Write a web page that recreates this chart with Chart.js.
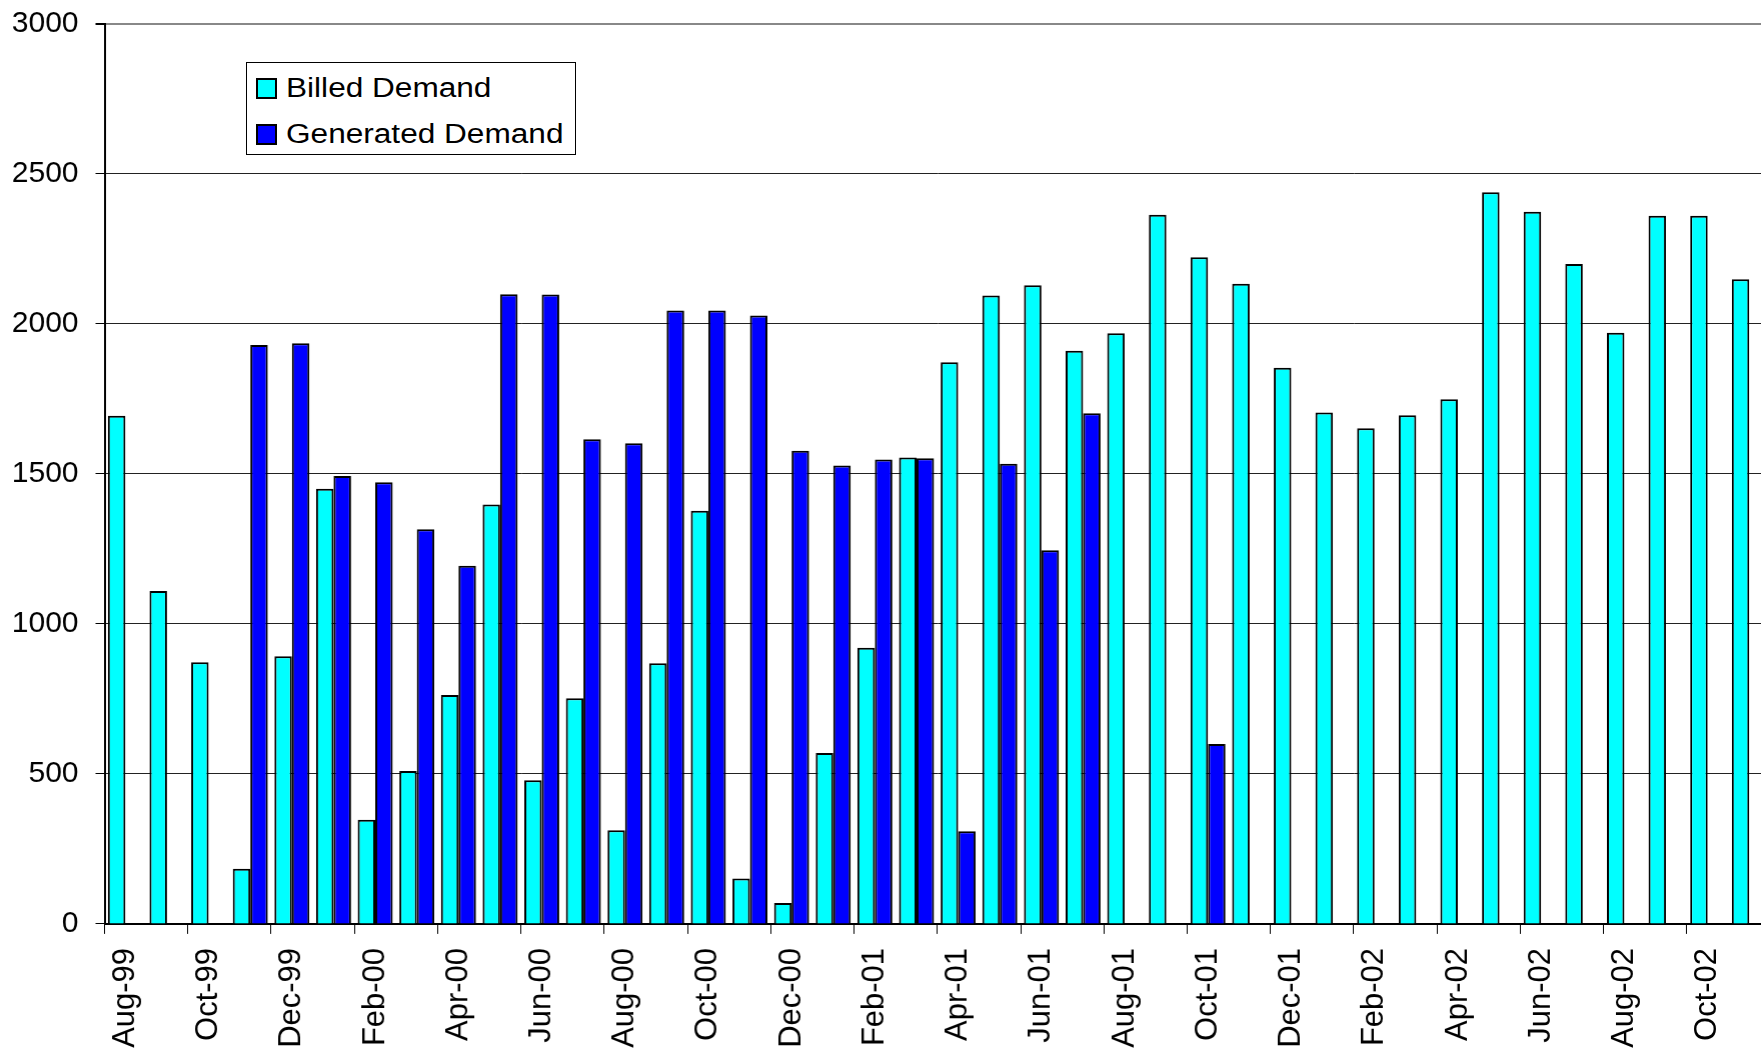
<!DOCTYPE html>
<html>
<head>
<meta charset="utf-8">
<script src="https://cdn.jsdelivr.net/npm/chart.js@4"></script>
<style>
  html, body { margin: 0; padding: 0; background: #fff; overflow: hidden; }
  #wrap { position: absolute; left: 0; top: -11.4px; width: 1799.5px; height: 1063.4px; }
  #legend {
    position: absolute; left: 246px; top: 62px; width: 328px; height: 91px;
    border: 1px solid #000; background: #fff;
    font-family: "Liberation Sans", Arial, sans-serif; font-size: 27px; color: #000;
  }
  .item { position: absolute; left: 9px; height: 30px; line-height: 30px; white-space: nowrap; }
  .sw { position: absolute; left: 0; top: 5px; width: 17px; height: 17px; border: 2px solid #000; }
  .lbl { position: absolute; left: 30px; top: 0; display: inline-block; transform: scaleX(1.17); transform-origin: left center; }
</style>
</head>
<body>
<div id="wrap"><canvas id="chart"></canvas></div>
<div id="legend">
  <div class="item" style="top:10px"><span class="sw" style="background:#00ffff"></span><span class="lbl">Billed Demand</span></div>
  <div class="item" style="top:56px"><span class="sw" style="background:#0000ff"></span><span class="lbl">Generated Demand</span></div>
</div>
<script>
const months = [
  'Aug-99', 'Sep-99', 'Oct-99', 'Nov-99', 'Dec-99', 'Jan-00', 'Feb-00', 'Mar-00',
  'Apr-00', 'May-00', 'Jun-00', 'Jul-00', 'Aug-00', 'Sep-00', 'Oct-00', 'Nov-00',
  'Dec-00', 'Jan-01', 'Feb-01', 'Mar-01', 'Apr-01', 'May-01', 'Jun-01', 'Jul-01',
  'Aug-01', 'Sep-01', 'Oct-01', 'Nov-01', 'Dec-01', 'Jan-02', 'Feb-02', 'Mar-02',
  'Apr-02', 'May-02', 'Jun-02', 'Jul-02', 'Aug-02', 'Sep-02', 'Oct-02', 'Nov-02'
];

const billed = [
  1694, 1110, 872, 184, 892, 1451, 347, 510,
  763, 1398, 479, 752, 312, 869, 1377, 151,
  70, 570, 921, 1555, 1872, 2095, 2129, 1911,
  1969, 2364, 2222, 2134, 1854, 1705, 1652, 1696,
  1749, 2439, 2374, 2200, 1971, 2361, 2361, 2149
];

const generated = [
  null, null, null, 1930, 1936, 1493, 1472, 1316,
  1194, 2099, 2098, 1616, 1602, 2045, 2045, 2028,
  1577, 1528, 1548, 1552, 309, 1534, 1246, 1702,
  null, null, 600, null, null, null, null, null,
  null, null, null, null, null, null, null, null
];

const yTicks = [0, 500, 1000, 1500, 2000, 2500, 3000];

Chart.defaults.font.family = '"Liberation Sans", Arial, sans-serif';
Chart.defaults.color = '#000';

new Chart(document.getElementById('chart'), {
  type: 'bar',
  data: {
    labels: months,
    datasets: [
      {
        label: 'Billed Demand',
        data: billed,
        backgroundColor: '#00ffff',
        borderColor: '#000',
        borderWidth: 2,
        borderSkipped: 'bottom',
      },
      {
        label: 'Generated Demand',
        data: generated,
        backgroundColor: '#0000ff',
        borderColor: '#000',
        borderWidth: 2,
        borderSkipped: 'bottom',
      }
    ]
  },
  options: {
    responsive: true,
    maintainAspectRatio: false,
    animation: false,
    categoryPercentage: 0.84,
    barPercentage: 1.0,
    layout: { padding: { top: 10, left: 0, right: 0, bottom: 0 } },
    plugins: {
      legend: { display: false },
      tooltip: { enabled: false }
    },
    scales: {
      x: {
        offset: true,
        afterFit: s => { s.height = 128.5; },
        grid: {
          offset: true,
          drawOnChartArea: false,
          drawTicks: true,
          tickLength: 10,
          tickColor: ctx => (ctx.index % 2 === 0 ? '#000' : 'rgba(0,0,0,0)')
        },
        border: { display: true, color: '#000', width: 2 },
        ticks: {
          autoSkip: false,
          maxRotation: 90,
          minRotation: 90,
          padding: 14,
          font: { size: 31 },
          callback: (v, i) => (i % 2 === 0 ? months[i] : '')
        }
      },
      y: {
        min: yTicks[0],
        max: yTicks[yTicks.length - 1],
        afterFit: s => { s.width = 104.5; },
        afterBuildTicks: s => { s.ticks = yTicks.map(v => ({ value: v })); },
        grid: {
          color: ctx => (ctx.tick && ctx.tick.value === 3000 ? '#888' : '#222'),
          lineWidth: ctx => (ctx.tick && ctx.tick.value === 3000 ? 2 : 1),
          tickColor: '#000',
          tickLength: 9
        },
        border: { display: true, color: '#000', width: 2 },
        ticks: {
          padding: 17,
          font: { size: 30 },
          callback: v => String(v)
        }
      }
    }
  }
});
</script>
</body>
</html>
